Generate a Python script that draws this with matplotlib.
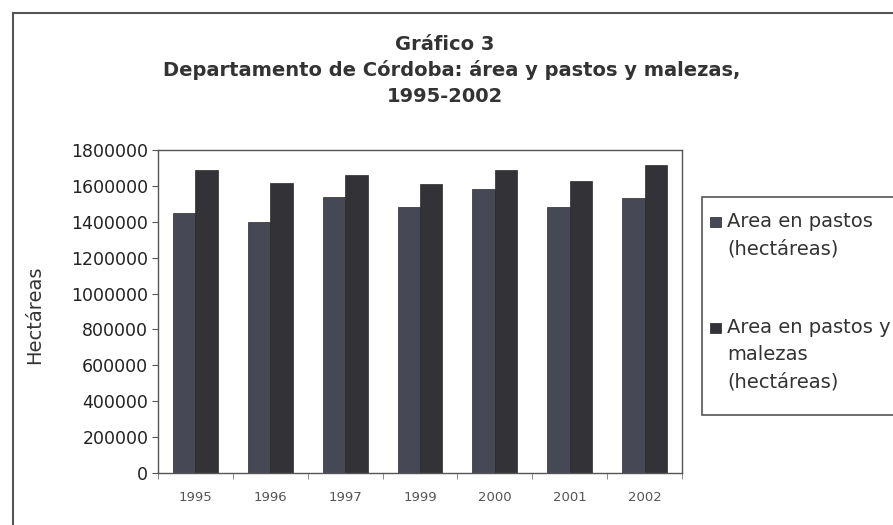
import numpy as np
import matplotlib.pyplot as plt
from matplotlib.patches import Rectangle
from matplotlib.lines import Line2D

# Datos
anios = ['1995', '1996', '1997', '1999', '2000', '2001', '2002']
area_pastos = [1450000, 1400000, 1540000, 1480000, 1585000, 1480000, 1535000]
area_pastos_malezas = [1690000, 1615000, 1660000, 1610000, 1690000, 1625000, 1715000]
series = ['Area en pastos\n(hectáreas)', 'Area en pastos y\nmalezas\n(hectáreas)']
colores = ['#464955', '#333337']

plt.rcParams['font.family'] = ['DejaVu Sans']

fig = plt.figure(figsize=(8.93, 5.25), dpi=100)
ax = fig.add_axes([158/893, 1 - 473/525, 524/893, 323/525])

x = np.arange(len(anios))
w = 0.3
ax.bar(x - w/2, area_pastos, width=w, color=colores[0], edgecolor='#2a2a2a', linewidth=0.5)
ax.bar(x + w/2, area_pastos_malezas, width=w, color=colores[1], edgecolor='#2a2a2a', linewidth=0.5)

ax.set_xlim(-0.5, len(anios) - 0.5)
ax.set_ylim(0, 1800000)
ax.set_yticks(np.arange(0, 1800001, 200000))
ax.set_yticklabels([str(v) for v in range(0, 1800001, 200000)], fontsize=12.5, color='#222222')
ax.set_xticks(x)
ax.set_xticklabels(anios, fontsize=9.5, color='#555555')
ax.set_xticks(np.arange(-0.5, len(anios)), minor=True)
ax.tick_params(axis='x', which='major', length=0, pad=13)
ax.tick_params(axis='x', which='minor', length=4, color='#777777')
ax.tick_params(axis='y', length=4, color='#555555', pad=3)
for s in ax.spines.values():
    s.set_color('#555555')
    s.set_linewidth(1.0)

ax.set_ylabel('Hectáreas', fontsize=14, color='#333333')
ax.yaxis.set_label_coords(-0.218, 0.49)

# Título
estilo_titulo = dict(ha='center', va='center', fontsize=14, fontweight='bold', color='#333333')
fig.text(445/893, 1 - 45/525, 'Gráfico 3', **estilo_titulo)
fig.text(452/893, 1 - 70/525, 'Departamento de Córdoba: área y pastos y malezas,', **estilo_titulo)
fig.text(445/893, 1 - 96/525, '1995-2002', **estilo_titulo)

# Marco exterior
fig.add_artist(Line2D([13/893, 13/893], [0, 1 - 13/525], transform=fig.transFigure,
                      color='#555555', linewidth=1.5))
fig.add_artist(Line2D([13/893, 1], [1 - 13/525, 1 - 13/525], transform=fig.transFigure,
                      color='#555555', linewidth=1.5))

# Leyenda
fig.add_artist(Rectangle((702/893, 1 - 415/525), 220/893, 218/525, transform=fig.transFigure,
                         facecolor='white', edgecolor='#555555', linewidth=1.2))
for lab, col, ytop in zip(series, colores, [222, 328]):
    fig.add_artist(Rectangle((710/893, 1 - (ytop + 5)/525), 11/893, 10/525,
                             transform=fig.transFigure, facecolor=col, edgecolor='#222222',
                             linewidth=0.5))
    fig.text(727/893, 1 - (ytop - 10)/525, lab, ha='left', va='top', fontsize=14,
             color='#333333', linespacing=1.55)

fig.savefig('out.png', dpi=100)
